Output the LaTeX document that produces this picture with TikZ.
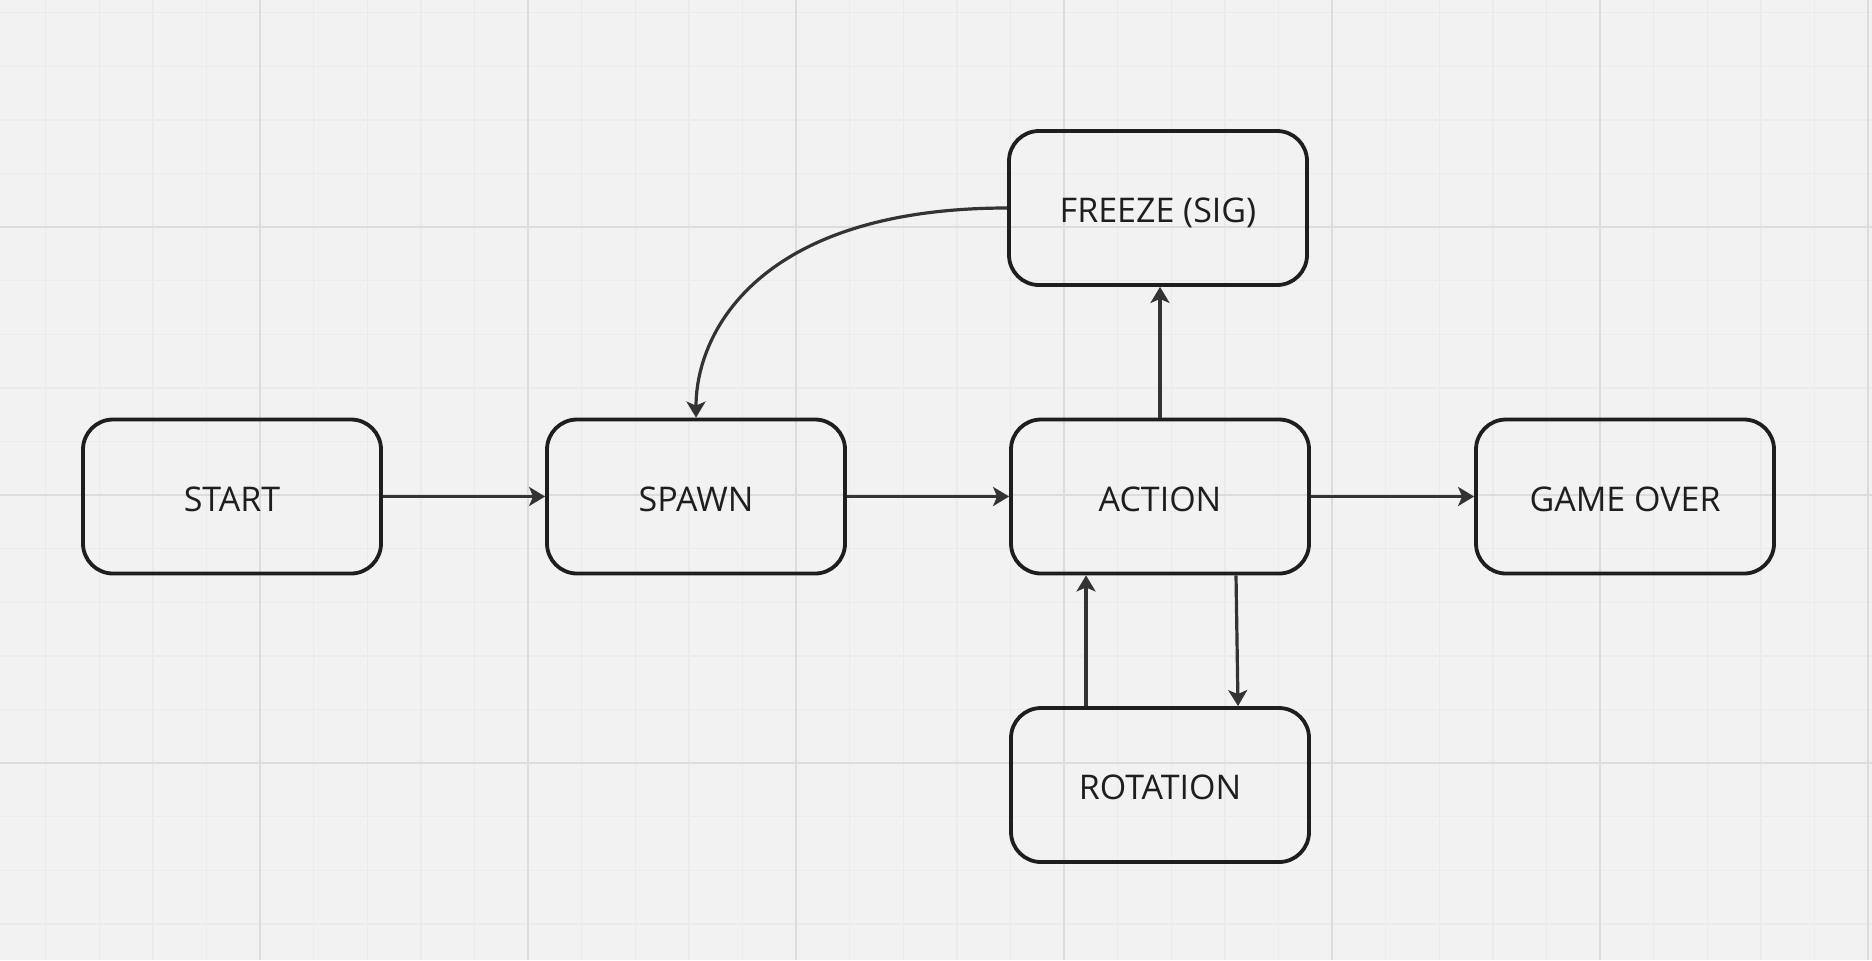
\documentclass[tikz,border=0pt]{standalone}
\usepackage{fontspec}
\setmainfont{Open Sans}
\usetikzlibrary{arrows.meta}

\definecolor{bgcol}{HTML}{F2F2F2}
\definecolor{minorline}{HTML}{EBEBEB}
\definecolor{majorline}{HTML}{DCDCDC}
\definecolor{boxline}{HTML}{1E1E1E}
\definecolor{arrowline}{HTML}{333333}

\begin{document}
\begin{tikzpicture}[x=0.5pt, y=-0.5pt,
        state/.style={draw=boxline, line width=1.9pt, rounded corners=15pt,
            minimum width=149pt, minimum height=77pt, inner sep=0pt,
            text height=14.5pt, text depth=0pt,
            font=\fontsize{17}{20}\selectfont, text=boxline},
        flow/.style={draw=arrowline, line width=1.6pt,
            -{Stealth[length=8pt, width=9.5pt, inset=2pt]}}]
        % 绘制背景
        \fill[bgcol] (0,0) rectangle (1872,960);
        \useasboundingbox (0,0) rectangle (1872,960);
        
        % 绘制网格
        \foreach \x in {45.6,99.2,...,1872} {
            \draw[minorline, line width=0.7pt] (\x,0) -- (\x,960);
        }
        \foreach \y in {12.6,66.2,...,960} {
            \draw[minorline, line width=0.7pt] (0,\y) -- (1872,\y);
        }
        \foreach \x in {260,528,...,1872} {
            \draw[majorline, line width=1pt] (\x,0) -- (\x,960);
        }
        \foreach \y in {227,495,763} {
            \draw[majorline, line width=1pt] (0,\y) -- (1872,\y);
        }
        
        % 绘制状态
        \node[state] (start) at (232,496.5) {START};
        \node[state] (spawn) at (696,496.5) {SPAWN};
        \node[state] (action) at (1160,496.5) {ACTION};
        \node[state] (gameover) at (1625,496.5) {GAME OVER};
        \node[state] (freeze) at (1158,208) {FREEZE (SIG)};
        \node[state] (rotation) at (1160,785) {ROTATION};
        
        % 绘制状态转移
        \draw[flow] (start) -- (spawn);
        \draw[flow] (spawn) -- (action);
        \draw[flow] (action) -- (gameover);
        \draw[flow] (action.north) -- (action.north |- freeze.south);
        \draw[flow] (freeze.west) .. controls +(-245,0) and +(0,-88) .. (spawn.north);
        \draw[flow] ([xshift=38pt]action.south) -- ([xshift=39pt]rotation.north);
        \draw[flow] ([xshift=-37pt]rotation.north) -- ([xshift=-37pt]action.south);
    \end{tikzpicture}
\end{document}
